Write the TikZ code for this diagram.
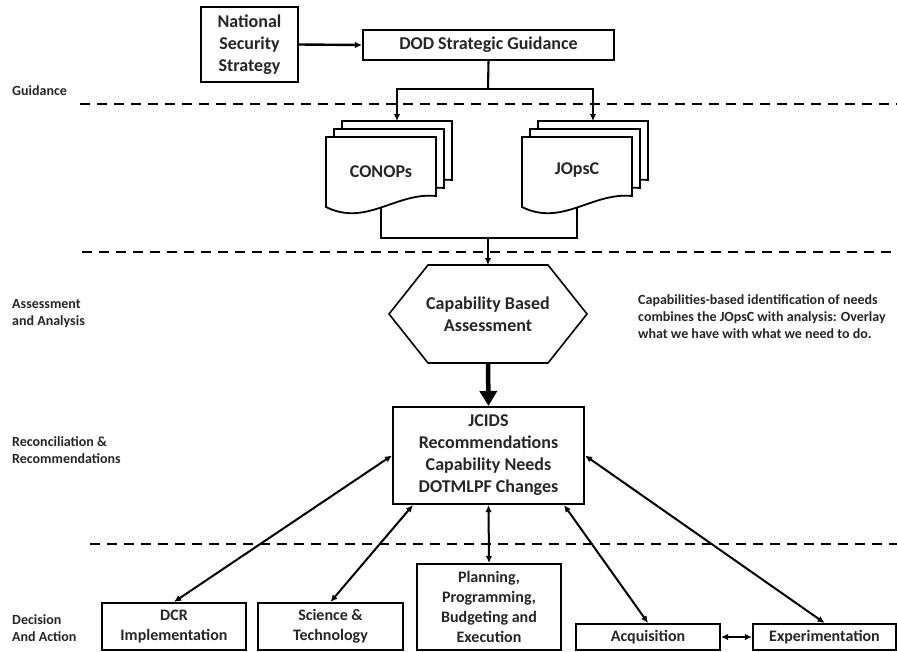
\documentclass[tikz,border=0pt]{standalone}
\usepackage{fontspec}
\setmainfont{Carlito}
\usetikzlibrary{arrows.meta}

% one stacked-page "document" sheet, top-left corner at (#1,#2)
\newcommand\docsheet[2]{%
  \begin{scope}[shift={(#1,#2)}]
    \draw[sheet] (0,0) -- (110,0) -- (110,59)
      .. controls (70,55) and (40,90) .. (0,70) -- cycle;
  \end{scope}}

\begin{document}
\begin{tikzpicture}[x=1pt,y=-1pt,
  every node/.style={text=black!85},
  box/.style={draw, line width=2.1pt, fill=white, inner sep=0pt, align=center},
  big/.style={font=\bfseries\fontsize{18}{22}\selectfont, align=center},
  mid/.style={font=\bfseries\fontsize{16}{20}\selectfont, align=center},
  lbl/.style={font=\bfseries\fontsize{14}{17}\selectfont, align=left, anchor=west, inner sep=0pt},
  link/.style={line width=2.1pt},
  tip/.style={-{Latex[length=7pt,width=6.5pt]}},
  both/.style={{Latex[length=7pt,width=6.5pt]}-{Latex[length=7pt,width=6.5pt]}, line width=2pt},
  sep/.style={line width=2.6pt, dash pattern=on 10pt off 7pt},
  sheet/.style={draw, line width=1.8pt, fill=white}
]
\useasboundingbox (0,0) rectangle (897,651);

% phase separators
\draw[sep] (80,104) -- (897,104);
\draw[sep] (82,252) -- (897,252);
\draw[sep] (90,544) -- (897,544);

% phase labels
\node[lbl] (lguid) at (12,91) {Guidance};
\node[lbl] (lassess) at (12,314) {Assessment\\and Analysis};
\node[lbl] (lrecon) at (12,450) {Reconciliation \&\\Recommendations};
\node[lbl] (ldec) at (12,628) {Decision\\And Action};

% guidance
\node[box, big, minimum width=97pt, minimum height=75pt] (nss) at (249.5,44.5) {National\\Security\\Strategy};
\node[box, big, minimum width=251pt, minimum height=30pt] (dod) at (488.5,45) {DOD Strategic Guidance};
\draw[link, line width=2.4pt, tip] (nss.east) -- (dod.west);

% concept documents
\docsheet{342}{121}\docsheet{334}{129}\docsheet{326}{137}
\docsheet{538}{121}\docsheet{530}{129}\docsheet{522}{137}
\node[big] (conops) at (381,172) {CONOPs};
\node[big] (jopsc) at (577,170) {JOpsC};
\coordinate (conopsTop) at (397,121);
\coordinate (jopscTop) at (593,121);
\coordinate (conopsBot) at (381,207);
\coordinate (jopscBot) at (577,207);
\coordinate (split) at (488,89);
\coordinate (merge) at (488,238);

\draw[link] (dod.south) -- (split);
\draw[link, tip] (split) -| (conopsTop);
\draw[link, tip] (split) -| (jopscTop);
\draw[link] (conopsBot) |- (merge) -| (jopscBot);

% assessment
\node[big] (cba) at (488,314) {Capability Based\\Assessment};
\draw[line width=1.6pt] (428,265) -- (548,265) -- (587,314) -- (548,363)
  -- (428,363) -- (389,314) -- cycle;
\coordinate (cbaTop) at (488,265);
\coordinate (cbaBot) at (488,363);
\draw[link, tip] (merge) -- (cbaTop);

\node[lbl] (note) at (638,317) {Capabilities-based identification of needs\\combines the JOpsC with analysis: Overlay\\what we have with what we need to do.};

% reconciliation
\node[box, big, minimum width=191pt, minimum height=97pt] (jcids) at (488.5,455.5)
  {JCIDS\\Recommendations\\Capability Needs\\DOTMLPF Changes};
\draw[line width=4.5pt, -{Triangle[length=15pt,width=17pt]}] (cbaBot) -- (jcids.north);

% decision and action
\node[box, mid, minimum width=144pt, minimum height=47pt] (dcr) at (174,626.5) {DCR\\Implementation};
\node[box, mid, minimum width=145pt, minimum height=47pt] (st) at (330.5,626.5) {Science \&\\Technology};
\node[box, mid, minimum width=144pt, minimum height=86pt] (ppbe) at (489,607) {Planning,\\Programming,\\Budgeting and\\Execution};
\node[box, mid, minimum width=144pt, minimum height=26pt] (acq) at (648,637) {Acquisition};
\node[box, mid, minimum width=143pt, minimum height=26pt] (exp) at (824.5,637) {Experimentation};

\draw[both] (jcids.west) -- (dcr.north);
\draw[both] ([xshift=21pt]jcids.south west) -- (st.north);
\draw[both] (jcids.south) -- (ppbe.north);
\draw[both] ([xshift=-21pt]jcids.south east) -- (acq.north);
\draw[both] (jcids.east) -- (exp.north);
\draw[both] (acq.east) -- (exp.west);
\end{tikzpicture}
\end{document}
